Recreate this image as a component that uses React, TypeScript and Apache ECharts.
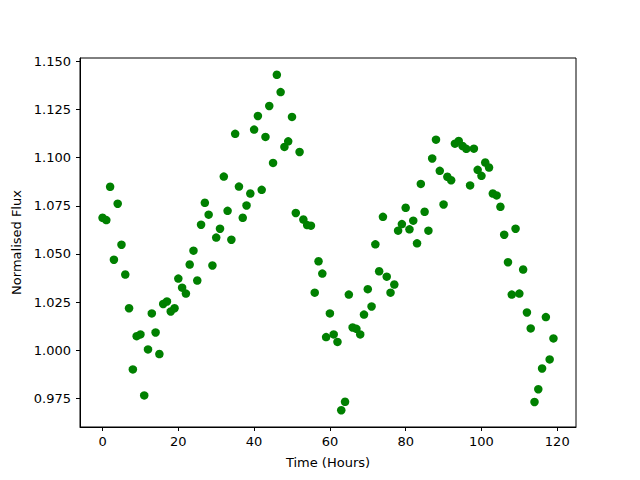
import React, { useEffect, useRef } from "react";
import * as echarts from "echarts";

const timeHours: number[] = Array.from({ length: 120 }, (_, i) => i);
const flux: number[] = [
  1.0688, 1.0676, 1.0849, 1.047, 1.0761, 1.0548, 1.0393, 1.0218, 0.99, 1.0073,
  1.0082, 0.9765, 1.0004, 1.0191, 1.0092, 0.998, 1.024, 1.0253, 1.0201, 1.0218,
  1.0372, 1.0325, 1.0294, 1.0445, 1.0517, 1.0362, 1.0652, 1.0766, 1.0704, 1.044,
  1.0585, 1.0631, 1.0902, 1.0724, 1.0574, 1.1124, 1.085, 1.0688, 1.0752, 1.0814,
  1.1146, 1.1217, 1.0833, 1.1108, 1.1269, 1.0973, 1.1431, 1.1341, 1.1056, 1.1085,
  1.1212, 1.0713, 1.103, 1.0679, 1.065, 1.0647, 1.0299, 1.0462, 1.0398, 1.0068,
  1.0191, 1.0082, 1.0043, 0.9688, 0.9732, 1.0289, 1.0118, 1.0111, 1.0082, 1.0185,
  1.0317, 1.0227, 1.055, 1.041, 1.0693, 1.0382, 1.0299, 1.0341, 1.0621, 1.0655,
  1.074, 1.0628, 1.0673, 1.0555, 1.0864, 1.0719, 1.0621, 1.0996, 1.1094, 1.0932,
  1.0757, 1.0901, 1.0883, 1.1073, 1.1087, 1.1061, 1.1046, 1.0856, 1.1047, 1.0937,
  1.0906, 1.0975, 1.0949, 1.0814, 1.0804, 1.0745, 1.06, 1.0457, 1.0289, 1.0631,
  1.0294, 1.0419, 1.0196, 1.0113, 0.9731, 0.9797, 0.9905, 1.0172, 0.9952, 1.0061,
];
const xTicks: number[] = [0, 20, 40, 60, 80, 100, 120];
const yTicks: number[] = [0.975, 1.0, 1.025, 1.05, 1.075, 1.1, 1.125, 1.15];

export default function App() {
  const ref = useRef<HTMLDivElement>(null);
  useEffect(() => {
    if (!ref.current) return;
    const chart = echarts.init(ref.current, undefined, { renderer: "svg" });
    const xmin = 0, xmax = 119;
    const xpad = (xmax - xmin) * 0.05;
    const ymin = Math.min(...flux), ymax = Math.max(...flux);
    const ypad = (ymax - ymin) * 0.05;
    const font = "DejaVu Sans";
    chart.setOption({
      animation: false,
      backgroundColor: "#ffffff",
      grid: {
        left: 80,
        right: 64,
        top: 58,
        bottom: 53,
        show: true,
        borderColor: "#000000",
        borderWidth: 1,
        backgroundColor: "transparent",
      },
      xAxis: {
        type: "value",
        min: xmin - xpad,
        max: xmax + xpad,
        name: "Time (Hours)",
        nameLocation: "middle",
        nameGap: 29,
        nameTextStyle: { color: "#000", fontSize: 13, fontFamily: font },
        splitLine: { show: false },
        axisLine: { show: true, onZero: false, lineStyle: { color: "#000", width: 1 } },
        axisTick: { show: true, length: 4, customValues: xTicks, lineStyle: { color: "#000" } },
        axisLabel: {
          customValues: xTicks,
          color: "#000",
          fontSize: 13,
          fontFamily: font,
          margin: 8,
        },
      },
      yAxis: {
        type: "value",
        min: ymin - ypad,
        max: ymax + ypad,
        name: "Normalised Flux",
        nameLocation: "middle",
        nameGap: 57,
        nameTextStyle: { color: "#000", fontSize: 13, fontFamily: font },
        splitLine: { show: false },
        axisLine: { show: true, onZero: false, lineStyle: { color: "#000", width: 1 } },
        axisTick: { show: true, length: 4, customValues: yTicks, lineStyle: { color: "#000" } },
        axisLabel: {
          customValues: yTicks,
          color: "#000",
          fontSize: 13,
          fontFamily: font,
          margin: 9,
          formatter: (v: number) => v.toFixed(3),
        },
      },
      series: [
        {
          type: "scatter",
          symbol: "circle",
          symbolSize: 8.5,
          itemStyle: { color: "#008000", opacity: 1 },
          data: timeHours.map((t, i) => [t, flux[i]]),
        },
      ],
    });
    return () => chart.dispose();
  }, []);
  return (
    <div
      ref={ref}
      style={{ position: "fixed", left: 0, top: 0, width: 640, height: 480, background: "#fff" }}
    />
  );
}
